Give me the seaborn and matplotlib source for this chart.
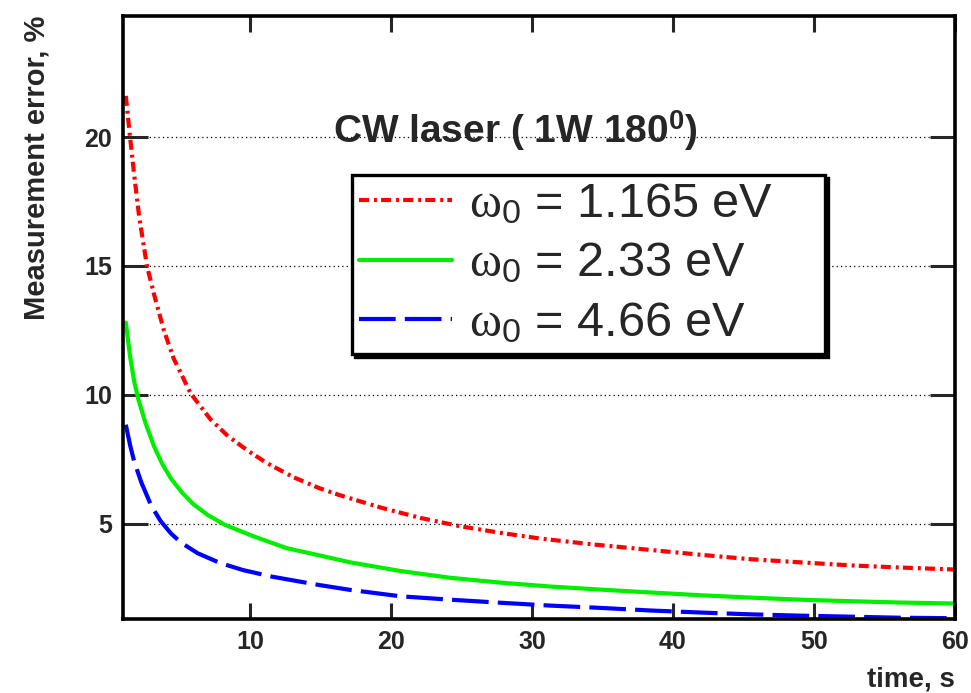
import numpy as np
import pandas as pd
import matplotlib
matplotlib.use("Agg")
import matplotlib.pyplot as plt
import seaborn as sns

# values
t_red = [1.2, 1.5, 1.8, 2.15, 2.7, 3.2, 3.9, 4.6, 5.8, 7.2, 8.4, 9.8, 11.2, 13.1, 14.9,
         16.4, 19.3, 22.1, 24.9, 27.8, 30.6, 34.4, 38.4, 42.0, 45.5, 49.0, 52.6, 56.0, 60.0]
err_red = [21.6, 20.0, 18.5, 16.9, 15.0, 13.9, 12.5, 11.4, 10.05, 9.05, 8.42, 7.85, 7.35, 6.8, 6.38,
           6.1, 5.62, 5.22, 4.9, 4.64, 4.42, 4.19, 3.98, 3.79, 3.62, 3.5, 3.38, 3.3, 3.22]

t_green = [1.2, 1.5, 1.8, 2.1, 2.6, 3.2, 3.8, 4.4, 5.2, 6.0, 7.0, 8.2, 10.3, 12.6, 15.0,
           17.1, 20.7, 24.2, 27.8, 31.3, 34.9, 38.4, 42.0, 45.5, 49.0, 52.6, 56.0, 60.0]
err_green = [12.8, 11.5, 10.5, 9.8, 8.9, 8.0, 7.3, 6.75, 6.2, 5.75, 5.34, 4.96, 4.5, 4.05, 3.76,
             3.5, 3.16, 2.9, 2.71, 2.56, 2.44, 2.33, 2.22, 2.13, 2.05, 1.99, 1.94, 1.90]

t_blue = [1.2, 1.5, 1.8, 2.3, 3.0, 3.67, 4.4, 5.1, 6.3, 7.9, 9.5, 11.5, 14.9, 17.1, 20.7,
          24.2, 27.8, 31.3, 34.9, 38.4, 42.0, 45.5, 49.0, 52.6, 56.0, 60.0]
err_blue = [8.84, 8.05, 7.4, 6.6, 5.7, 5.1, 4.62, 4.27, 3.85, 3.47, 3.2, 2.95, 2.62, 2.43, 2.18,
            2.05, 1.93, 1.82, 1.73, 1.63, 1.55, 1.48, 1.43, 1.39, 1.35, 1.33]

labels = [r'$\omega_{\mathsf{0}}$ = 1.165 eV',
          r'$\omega_{\mathsf{0}}$ = 2.33 eV',
          r'$\omega_{\mathsf{0}}$ = 4.66 eV']
y_ticks = [5, 10, 15, 20]
x_ticks = [10, 20, 30, 40, 50, 60]

sns.set_style('ticks')
plt.rcParams['font.family'] = ['Liberation Sans', 'DejaVu Sans']
plt.rcParams['mathtext.fontset'] = 'custom'
plt.rcParams['mathtext.rm'] = 'Liberation Serif'
plt.rcParams['mathtext.it'] = 'Liberation Serif'
plt.rcParams['mathtext.sf'] = 'Liberation Sans'
plt.rcParams['mathtext.bf'] = 'Liberation Sans:bold'

fig = plt.figure(figsize=(9.71, 6.93), dpi=100)
ax = fig.add_axes([123 / 971, 1 - 619 / 693, (955 - 123) / 971, (619 - 16) / 693])

sns.lineplot(x=t_red, y=err_red, ax=ax, color='#ff0000', lw=3,
             linestyle=(0, (2.4, 1.2, 0.7, 1.0)), label=labels[0])
sns.lineplot(x=t_green, y=err_green, ax=ax, color='#00ee00', lw=3, label=labels[1])
sns.lineplot(x=t_blue, y=err_blue, ax=ax, color='#0000ff', lw=3,
             linestyle=(0, (8.8, 2.2)), label=labels[2])

ax.set_xlim(1, 60)
ax.set_ylim(1.3, 24.7)
ax.set_xticks(x_ticks)
ax.set_yticks(y_ticks)
ax.tick_params(axis='both', which='major', direction='in', width=2.2,
               labelsize=18)
ax.tick_params(axis='y', length=18, right=True, pad=8)
ax.tick_params(axis='x', length=11.5, top=True, pad=8)
for lab in ax.get_xticklabels() + ax.get_yticklabels():
    lab.set_fontweight('bold')
for sp in ax.spines.values():
    sp.set_visible(True)
    sp.set_linewidth(2.6)
    sp.set_color('black')

ax.yaxis.grid(True, linestyle=(0, (1, 2.5)), color='black', lw=0.9)

ax.set_xlabel('time, s', fontsize=20, fontweight='bold', loc='right', labelpad=9)
ax.set_ylabel('Measurement error, %', fontsize=21, fontweight='bold', loc='top', labelpad=24)

fig.text(515 / 971, 1 - 143 / 693, r'CW laser ( 1W 180$^{\mathbf{0}}$)',
         fontsize=28, fontweight='bold', ha='center', va='baseline')

leg = ax.legend(loc='upper left',
                bbox_to_anchor=(352 / 971, 1 - 353 / 693, 473 / 971, 178 / 693),
                bbox_transform=fig.transFigure, mode='expand', borderaxespad=0,
                fontsize=35, handlelength=1.9, handletextpad=0.35,
                labelspacing=0.3, borderpad=0.15, fancybox=False,
                edgecolor='black', framealpha=1,
                shadow={'color': 'black', 'alpha': 1})
leg.get_frame().set_linewidth(2.4)

fig.savefig('out.png', dpi=100)
